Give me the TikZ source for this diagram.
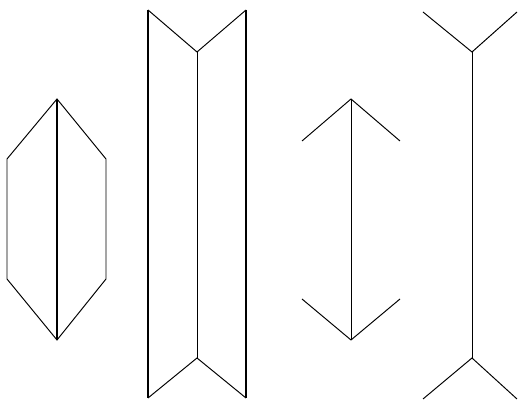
\documentclass[tikz,border=0pt]{standalone}
\begin{document}
\begin{tikzpicture}[x=0.02cm,y=-0.02cm,
  thin line/.style={line width=0.55pt,line join=miter},
  thick line/.style={line width=1.1pt}]
\useasboundingbox (0,0) rectangle (518,401);
% Figure 1: hexagon with thick axis
\coordinate (h1) at (57,99);
\coordinate (h2) at (106,159);
\coordinate (h3) at (106,279);
\coordinate (h4) at (57,340);
\coordinate (h5) at (7,279);
\coordinate (h6) at (7,159);
\draw[thin line] (h1) -- (h2) -- (h3) -- (h4) -- (h5) -- (h6) -- cycle;
\draw[thick line] (h1) -- (h4);
% Figure 2: panel with thick outer edges
\coordinate (a1) at (148,10);
\coordinate (a2) at (148,398);
\coordinate (b1) at (246,10);
\coordinate (b2) at (246,398);
\coordinate (m1) at (197,52);
\coordinate (m2) at (197,358);
\draw[thick line] (a1) -- (a2);
\draw[thick line] (b1) -- (b2);
\draw[thin line] (a1) -- (m1) -- (b1);
\draw[thin line] (a2) -- (m2) -- (b2);
\draw[thin line] (m1) -- (m2);
% Figure 3: arrows outward
\coordinate (c1) at (351,99);
\coordinate (c2) at (351,340);
\coordinate (cl1) at (302,141);
\coordinate (cr1) at (400,141);
\coordinate (cl2) at (302,299);
\coordinate (cr2) at (400,299);
\draw[thin line] (cl1) -- (c1) -- (cr1);
\draw[thin line] (cl2) -- (c2) -- (cr2);
\draw[thin line] (c1) -- (c2);
% Figure 4: arrows inward
\coordinate (d1) at (472,52);
\coordinate (d2) at (472,358);
\coordinate (dl1) at (423,12);
\coordinate (dr1) at (517,12);
\coordinate (dl2) at (423,399);
\coordinate (dr2) at (517,399);
\draw[thin line] (dl1) -- (d1) -- (dr1);
\draw[thin line] (dl2) -- (d2) -- (dr2);
\draw[thin line] (d1) -- (d2);
\end{tikzpicture}
\end{document}
